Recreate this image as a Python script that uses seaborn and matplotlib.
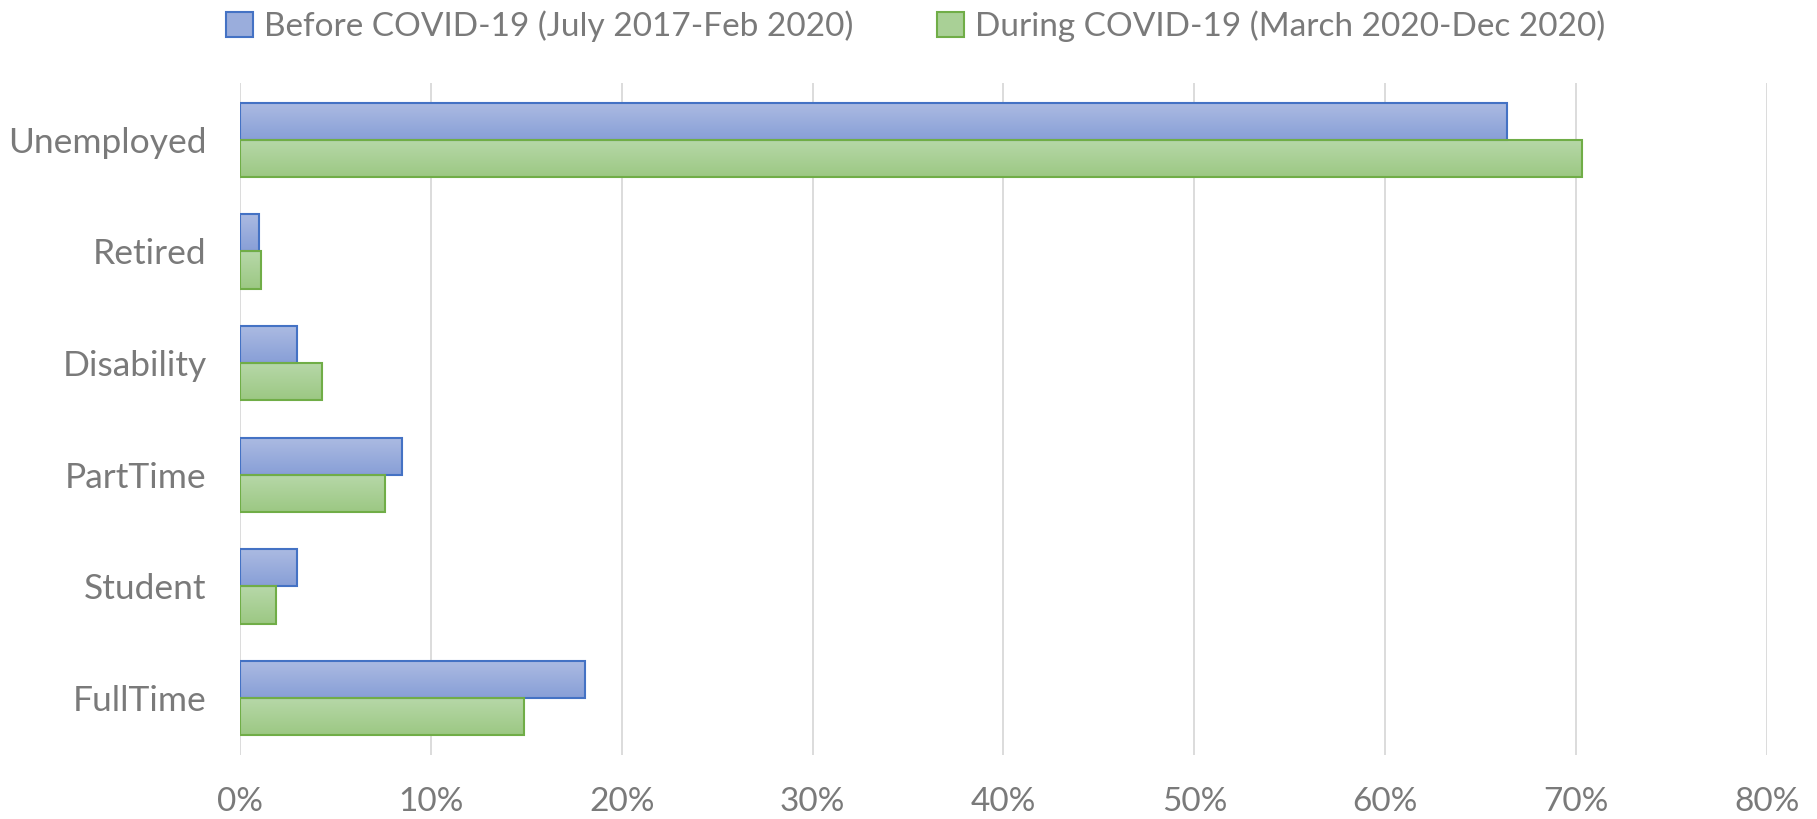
import matplotlib
matplotlib.use("Agg")
import matplotlib.pyplot as plt
import numpy as np
import pandas as pd
import seaborn as sns
from matplotlib.colors import to_rgb
from matplotlib.ticker import PercentFormatter

# values (percent)
categories = ["Unemployed", "Retired", "Disability", "PartTime", "Student", "FullTime"]
before_covid = [66.4, 1.0, 3.0, 8.5, 3.0, 18.1]
during_covid = [70.3, 1.1, 4.3, 7.6, 1.9, 14.9]
series_names = ["Before COVID-19 (July 2017-Feb 2020)",
                "During COVID-19 (March 2020-Dec 2020)"]
x_ticks = [0, 10, 20, 30, 40, 50, 60, 70, 80]

df = pd.DataFrame({
    "category": categories * 2,
    "share": before_covid + during_covid,
    "period": [series_names[0]] * len(categories) + [series_names[1]] * len(categories),
})

edge_colors = ["#4472c4", "#70ad47"]
grad_top = ["#acbbe2", "#b7d8a9"]
grad_bottom = ["#889fd7", "#9cc883"]
mid_colors = ["#9aaddc", "#a9d096"]
text_color = "#7a7a7a"

sns.set_theme(style="white")
plt.rcParams["font.family"] = ["Lato", "DejaVu Sans"]

fig = plt.figure(figsize=(18.17, 8.19), dpi=100)
ax = fig.add_axes([0.132, 0.078, 0.8405, 0.821])

sns.barplot(data=df, y="category", x="share", hue="period", order=categories,
            hue_order=series_names, palette=mid_colors, width=0.665,
            orient="h", ax=ax, legend=False)

# gradient fill for each bar, lighter on top
for container, c0, c1, ec in zip(ax.containers, grad_top, grad_bottom, edge_colors):
    top, bot = np.array(to_rgb(c0)), np.array(to_rgb(c1))
    grad = np.linspace(0, 1, 64)[:, None, None]
    img = top * (1 - grad) + bot * grad
    for patch in container.patches:
        x, y = patch.get_x(), patch.get_y()
        w, h = patch.get_width(), patch.get_height()
        im = ax.imshow(img, extent=[x, x + w, y + h, y], origin="upper",
                       aspect="auto", zorder=2, interpolation="bilinear")
        im.set_clip_path(patch)
        patch.set_facecolor("none")
        patch.set_edgecolor(ec)
        patch.set_linewidth(1.5)
        patch.set_zorder(3)

ax.set_xlim(0, 80)
ax.set_ylim(5.51, -0.51)
ax.set_xticks(x_ticks)
ax.xaxis.set_major_formatter(PercentFormatter(decimals=0))
ax.grid(axis="x", color="#d9d9d9", linewidth=1.3)
ax.set_axisbelow(True)
for s in ax.spines.values():
    s.set_visible(False)
ax.set_xlabel("")
ax.set_ylabel("")
ax.tick_params(axis="both", length=0, labelcolor=text_color)
ax.tick_params(axis="x", labelsize=24, pad=23)
ax.tick_params(axis="y", labelsize=25.5, pad=24)

# legend at the top
handles = [plt.Rectangle((0, 0), 1, 1, facecolor=m, edgecolor=e, linewidth=1.5)
           for m, e in zip(mid_colors, edge_colors)]
leg = fig.legend(handles, series_names, loc="center", bbox_to_anchor=(0.504, 0.968),
                 ncol=2, frameon=False, fontsize=24, handlelength=0.8,
                 handleheight=0.8, handletextpad=0.35, columnspacing=2.5)
for t in leg.get_texts():
    t.set_color(text_color)

fig.savefig("out.png", dpi=100)
